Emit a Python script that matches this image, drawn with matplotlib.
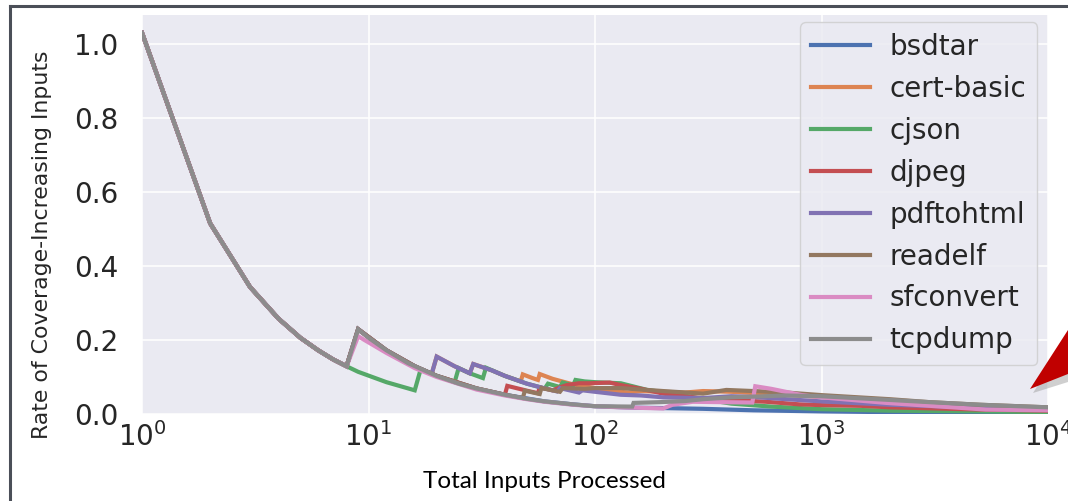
import matplotlib
matplotlib.use("Agg")
import matplotlib.pyplot as plt
from matplotlib.lines import Line2D
from matplotlib.patches import Polygon

# ---------------- data ----------------
head_n = [1, 2, 3, 4, 5, 6, 7, 8]
head_rate = [1.03, 0.515, 0.343, 0.258, 0.206, 0.172, 0.147, 0.129]

bsdtar_n = [9, 12, 16, 20, 30, 40, 60, 80, 100, 150, 200, 300, 500, 1000, 2000, 5000, 10000]
bsdtar_r = [0.229, 0.172, 0.129, 0.103, 0.069, 0.052, 0.034, 0.026, 0.021, 0.017, 0.016,
            0.014, 0.010, 0.007, 0.005, 0.004, 0.003]

certbasic_n = [9, 12, 16, 19, 20, 24, 28, 29, 35, 40, 47, 48, 53, 56, 57, 65, 80, 100, 120,
               140, 160, 200, 250, 300, 400, 600, 1000, 2000, 5000, 10000]
certbasic_r = [0.229, 0.172, 0.129, 0.108, 0.155, 0.129, 0.110, 0.135, 0.118, 0.103, 0.088,
               0.107, 0.097, 0.092, 0.108, 0.095, 0.080, 0.070, 0.062, 0.058, 0.062, 0.060,
               0.058, 0.062, 0.060, 0.054, 0.046, 0.032, 0.021, 0.015]

cjson_n = [9, 12, 16, 17, 20, 24, 25, 28, 32, 33, 40, 50, 60, 62, 70, 72, 80, 82, 90, 100,
           130, 170, 220, 300, 400, 600, 1000, 2000, 5000, 10000]
cjson_r = [0.114, 0.086, 0.064, 0.121, 0.103, 0.086, 0.124, 0.110, 0.097, 0.125, 0.103,
           0.082, 0.069, 0.082, 0.073, 0.085, 0.077, 0.092, 0.088, 0.086, 0.083, 0.065,
           0.056, 0.040, 0.028, 0.020, 0.013, 0.009, 0.007, 0.005]

djpeg_n = [9, 12, 16, 20, 30, 40, 41, 50, 56, 57, 65, 70, 75, 85, 95, 116, 130, 160, 200,
           300, 400, 570, 800, 1000, 1500, 2000, 5000, 10000]
djpeg_r = [0.229, 0.172, 0.129, 0.103, 0.069, 0.052, 0.076, 0.063, 0.056, 0.072, 0.064,
           0.072, 0.078, 0.083, 0.083, 0.085, 0.078, 0.068, 0.055, 0.042, 0.038, 0.033,
           0.026, 0.024, 0.022, 0.018, 0.012, 0.009]

pdftohtml_n = [9, 12, 16, 19, 20, 24, 28, 29, 35, 40, 50, 60, 68, 70, 85, 88, 100, 130, 160,
               200, 300, 400, 500, 700, 1000, 2000, 5000, 10000]
pdftohtml_r = [0.229, 0.172, 0.129, 0.108, 0.155, 0.129, 0.110, 0.135, 0.118, 0.103, 0.082,
               0.069, 0.061, 0.070, 0.058, 0.064, 0.060, 0.052, 0.050, 0.045, 0.043, 0.048,
               0.046, 0.040, 0.034, 0.025, 0.017, 0.012]

readelf_n = [9, 12, 16, 20, 30, 40, 48, 49, 57, 58, 70, 72, 90, 100, 130, 200, 300, 380, 500,
             700, 1000, 2000, 3000, 5000, 10000]
readelf_r = [0.229, 0.172, 0.129, 0.103, 0.069, 0.052, 0.043, 0.063, 0.054, 0.070, 0.060,
             0.070, 0.068, 0.070, 0.070, 0.062, 0.055, 0.065, 0.062, 0.058, 0.051, 0.040,
             0.032, 0.025, 0.018]

sfconvert_n = [9, 12, 16, 20, 30, 40, 50, 60, 80, 100, 130, 200, 220, 270, 495, 510, 600, 820,
               1000, 1930, 5300, 10000]
sfconvert_r = [0.210, 0.165, 0.124, 0.100, 0.066, 0.050, 0.040, 0.033, 0.025, 0.021, 0.018,
               0.015, 0.025, 0.033, 0.031, 0.075, 0.068, 0.051, 0.045, 0.030, 0.012, 0.010]

tcpdump_n = [9, 10, 12, 15, 20, 25, 30, 40, 50, 60, 80, 100, 146, 148, 193, 250, 300, 400,
             500, 700, 1000, 2000, 3000, 5000, 10000]
tcpdump_r = [0.229, 0.206, 0.172, 0.137, 0.103, 0.082, 0.069, 0.052, 0.041, 0.034, 0.026,
             0.021, 0.020, 0.030, 0.032, 0.035, 0.040, 0.045, 0.047, 0.050, 0.048, 0.038,
             0.032, 0.025, 0.018]

series_names = ["bsdtar", "cert-basic", "cjson", "djpeg", "pdftohtml", "readelf",
                "sfconvert", "tcpdump"]
series_n = [bsdtar_n, certbasic_n, cjson_n, djpeg_n, pdftohtml_n, readelf_n,
            sfconvert_n, tcpdump_n]
series_r = [bsdtar_r, certbasic_r, cjson_r, djpeg_r, pdftohtml_r, readelf_r,
            sfconvert_r, tcpdump_r]
colors = ["#4C72B0", "#DD8452", "#55A868", "#C44E52", "#8172B3", "#937860",
          "#DA8BC3", "#8C8C8C"]

y_ticks = [0.0, 0.2, 0.4, 0.6, 0.8, 1.0]
x_ticks = [1, 10, 100, 1000, 10000]

# ---------------- figure ----------------
W, H = 1068, 501
fig = plt.figure(figsize=(W / 100, H / 100), dpi=100)
fig.patch.set_facecolor("white")

def fx(px):
    return px / W

def fy(py):
    return (H - py) / H

ax = fig.add_axes([fx(142), fy(414), fx(1048) - fx(142), fy(15) - fy(414)])
ax.set_facecolor("#EAEAF2")
for s in ax.spines.values():
    s.set_visible(False)
ax.grid(True, color="white", linewidth=1.1)
ax.set_axisbelow(True)

for name, n, r, c in zip(series_names, series_n, series_r, colors):
    ax.plot(head_n + n, head_rate + r, color=c, lw=3.0, label=name,
            solid_joinstyle="miter")

ax.set_xscale("log")
ax.set_xlim(1, 10000)
ax.set_ylim(0, 1.078)
ax.set_xticks(x_ticks)
ax.xaxis.set_minor_locator(matplotlib.ticker.NullLocator())
ax.set_yticks(y_ticks)
ax.set_yticklabels([f"{v:.1f}" for v in y_ticks])
ax.tick_params(axis="both", length=0, labelsize=20, labelcolor="#262626")
ax.tick_params(axis="y", pad=17)
ax.tick_params(axis="x", pad=6)

leg = ax.legend(loc="upper right", bbox_to_anchor=(0.988, 0.9825), borderaxespad=0,
                fontsize=20, frameon=True, fancybox=True, handlelength=2.1,
                handletextpad=0.7, labelspacing=0.5, borderpad=0.4)
leg.get_frame().set_facecolor("#EAEAF2")
leg.get_frame().set_edgecolor("#CCCCCC")
leg.get_frame().set_alpha(0.8)
for t in leg.get_texts():
    t.set_color("#262626")

fig.text(fx(42), fy(245), "Rate of Coverage-Increasing Inputs", rotation=90,
         ha="center", va="center", fontsize=15.8, color="#262626")
fig.text(fx(544), fy(481), "Total Inputs Processed", ha="center", va="center",
         fontsize=17.5, family="Lato", color="black")

# slide frame
frame_col = "#4B4F58"
fig.add_artist(Line2D([fx(10), fx(10)], [fy(6), fy(H + 5)], color=frame_col, lw=2.2,
                      transform=fig.transFigure))
fig.add_artist(Line2D([fx(10), fx(W + 5)], [fy(6), fy(6)], color=frame_col, lw=2.2,
                      transform=fig.transFigure))

# red callout arrow at the right edge
shadow = Polygon([(fx(1033), fy(393)), (fx(W), fy(338)), (fx(W), fy(382))],
                 closed=True, facecolor="#A0A0A0", edgecolor="none", alpha=0.5,
                 transform=fig.transFigure)
arrow = Polygon([(fx(1030), fy(389)), (fx(W), fy(330)), (fx(W), fy(374))],
                closed=True, facecolor="#C00000", edgecolor="none",
                transform=fig.transFigure)
fig.add_artist(shadow)
fig.add_artist(arrow)

fig.savefig("out.png", dpi=100)
